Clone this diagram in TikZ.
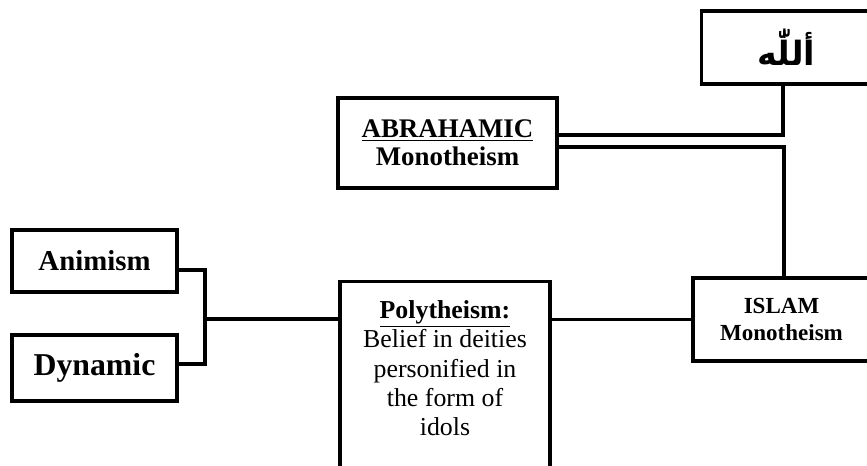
\documentclass[tikz,border=0pt]{standalone}
\usepackage{fontspec}
\setmainfont{Liberation Serif}
\newfontfamily\arabicfont[Script=Arabic]{DejaVu Sans}
\TeXXeTstate=1
\usepackage{tikz}

\begin{document}
\begin{tikzpicture}[x=1cm,y=1cm,
  box/.style={draw=black, line width=1.8pt, fill=white, inner sep=0pt},
  link/.style={black, line width=1.8pt}]
  \useasboundingbox (0,0) rectangle (17.34,9.32);
  \clip (0,0) rectangle (17.34,9.32);

  % Top of the tree
  \node[box, minimum width=3.4cm, minimum height=1.46cm] (allah) at (15.73,8.37)
    {\arabicfont\bfseries\fontsize{19}{22}\selectfont\beginR أللّٰه\endR};
  \node[box, minimum width=4.38cm, minimum height=1.8cm, align=center,
    font=\bfseries\fontsize{15.3}{16}\selectfont] (abr) at (8.95,6.46)
    {\underline{ABRAHAMIC}\\Monotheism};

  % Left branches
  \node[box, minimum width=3.3cm, minimum height=1.24cm,
    font=\bfseries\fontsize{16.4}{18}\selectfont] (animism) at (1.89,4.10) {Animism};
  \node[box, minimum width=3.3cm, minimum height=1.32cm,
    font=\bfseries\fontsize{18.1}{20}\selectfont] (dynamic) at (1.89,1.96) {Dynamic};

  % Polytheism, cut at the bottom
  \node[box, anchor=north, minimum width=4.2cm, minimum height=4.2cm] (poly) at (8.90,3.72) {};
  \node[anchor=north, inner sep=0pt, align=center,
    font=\fontsize{14.7}{16.6}\selectfont] (polytext) at ([yshift=-0.41cm]poly.north)
    {\textbf{\underline{Polytheism:}}\\Belief in deities\\personified in\\the form of\\idols};

  \node[box, minimum width=3.54cm, minimum height=1.66cm, align=center,
    font=\bfseries\fontsize{13.1}{15.1}\selectfont] (islam) at (15.63,2.93)
    {ISLAM\\Monotheism};

  % Connections
  \coordinate (fork) at (4.10,2.94);
  \draw[link] ([yshift=0.16cm]abr.east) -| ([xshift=-0.07cm]allah.south);
  \draw[link] ([yshift=-0.08cm]abr.east) -| ([xshift=0.05cm]islam.north);
  \draw[link] (islam.west) -- (islam.west -| poly.east);
  \draw[link] ([yshift=-0.18cm]animism.east) -| (fork) |- ([yshift=0.08cm]dynamic.east);
  \draw[link] (fork) -- (fork -| poly.west);
\end{tikzpicture}
\end{document}
